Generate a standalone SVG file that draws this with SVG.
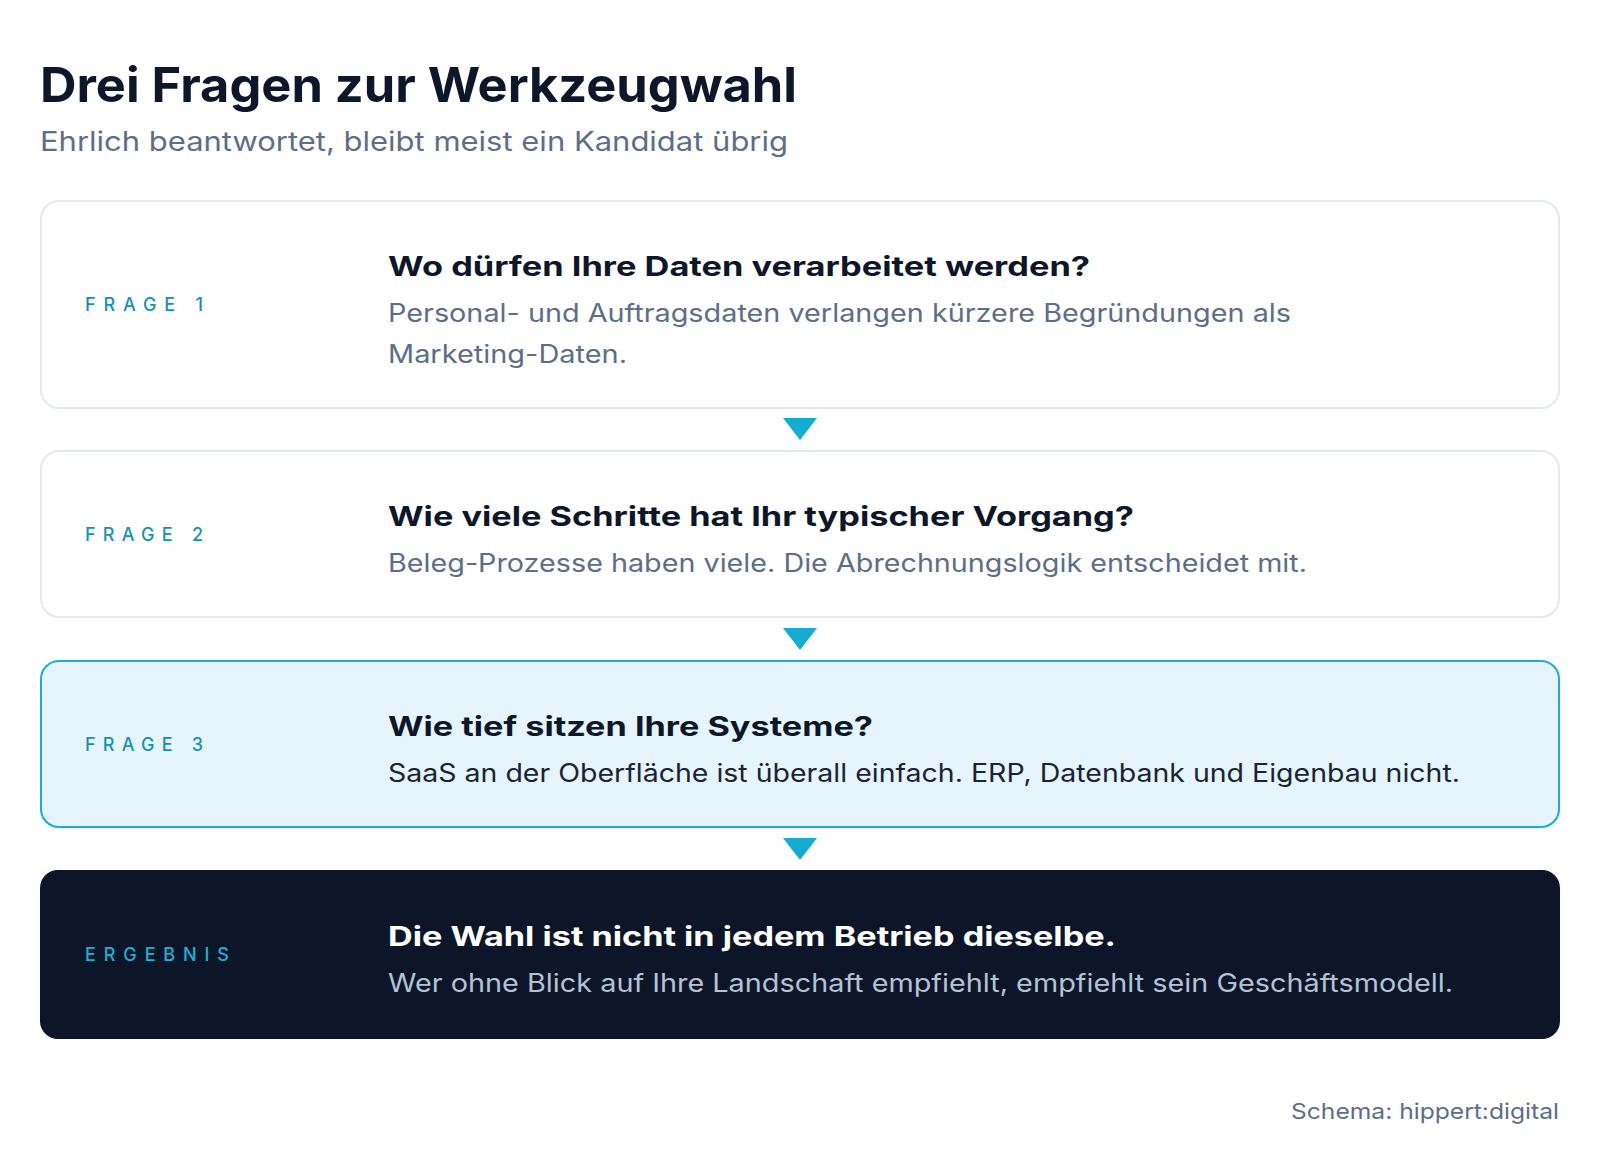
<svg xmlns="http://www.w3.org/2000/svg" width="1600" height="1158" viewBox="0 0 1600 1158">
  <style>
    .title { font-family: Inter, "Noto Sans", "Liberation Sans", sans-serif; font-weight: 700; font-size: 48px; fill: #0d1729; }
    .sub { font-family: Inter, "Noto Sans", "Liberation Sans", sans-serif; font-size: 27px; fill: #5e6e86; }
    .box { fill: #ffffff; stroke: #e2e8f0; stroke-width: 2; }
    .boxhi { fill: #e6f5fb; stroke: #17aed0; stroke-width: 2; }
    .boxdark { fill: #0c1628; }
    .lbl { font-family: Inter, "Noto Sans", "Liberation Sans", sans-serif; font-weight: 500; font-size: 18px; fill: #1592b0; letter-spacing: 6px; }
    .lbldark { fill: #19b2d6; }
    .head { font-family: Inter, "Noto Sans", "Liberation Sans", sans-serif; font-weight: 700; font-size: 27px; fill: #0d1729; }
    .headlight { fill: #ffffff; }
    .desc { font-family: Inter, "Noto Sans", "Liberation Sans", sans-serif; font-size: 25px; fill: #5e6e86; }
    .descdark { fill: #1a2436; }
    .desclight { fill: #b5c2d3; }
    .tri { fill: #14acd0; }
    .foot { font-family: Inter, "Noto Sans", "Liberation Sans", sans-serif; font-size: 22px; fill: #5e6e86; }
  </style>

  <rect x="0" y="0" width="1600" height="1158" fill="#ffffff"/>

  <g id="header">
    <text class="title" x="40" y="102" textLength="757" lengthAdjust="spacingAndGlyphs">Drei Fragen zur Werkzeugwahl</text>
    <text class="sub" x="40" y="151" textLength="748" lengthAdjust="spacingAndGlyphs">Ehrlich beantwortet, bleibt meist ein Kandidat übrig</text>
  </g>

  <g id="connectors">
    <polygon class="tri" points="783,418 817,418 800,440"/>
    <polygon class="tri" points="783,628 817,628 800,650"/>
    <polygon class="tri" points="783,838 817,838 800,860"/>
  </g>

  <g id="frage1">
    <rect class="box" x="41" y="201" width="1518" height="207" rx="18"/>
    <text class="lbl" x="85" y="311" textLength="124">FRAGE 1</text>
    <text class="head" x="388" y="276" textLength="702" lengthAdjust="spacingAndGlyphs">Wo dürfen Ihre Daten verarbeitet werden?</text>
    <text class="desc" x="388" y="322" textLength="903" lengthAdjust="spacingAndGlyphs">Personal- und Auftragsdaten verlangen kürzere Begründungen als</text>
    <text class="desc" x="388" y="363" textLength="239" lengthAdjust="spacingAndGlyphs">Marketing-Daten.</text>
  </g>

  <g id="frage2">
    <rect class="box" x="41" y="451" width="1518" height="166" rx="18"/>
    <text class="lbl" x="85" y="541" textLength="124">FRAGE 2</text>
    <text class="head" x="388" y="526" textLength="746" lengthAdjust="spacingAndGlyphs">Wie viele Schritte hat Ihr typischer Vorgang?</text>
    <text class="desc" x="388" y="572" textLength="919" lengthAdjust="spacingAndGlyphs">Beleg-Prozesse haben viele. Die Abrechnungslogik entscheidet mit.</text>
  </g>

  <g id="frage3">
    <rect class="boxhi" x="41" y="661" width="1518" height="166" rx="18"/>
    <text class="lbl" x="85" y="751" textLength="124">FRAGE 3</text>
    <text class="head" x="388" y="736" textLength="485" lengthAdjust="spacingAndGlyphs">Wie tief sitzen Ihre Systeme?</text>
    <text class="desc descdark" x="388" y="782" textLength="1072" lengthAdjust="spacingAndGlyphs">SaaS an der Oberfläche ist überall einfach. ERP, Datenbank und Eigenbau nicht.</text>
  </g>

  <g id="ergebnis">
    <rect class="boxdark" x="40" y="870" width="1520" height="169" rx="18"/>
    <text class="lbl lbldark" x="85" y="961" textLength="150">ERGEBNIS</text>
    <text class="head headlight" x="388" y="946" textLength="728" lengthAdjust="spacingAndGlyphs">Die Wahl ist nicht in jedem Betrieb dieselbe.</text>
    <text class="desc desclight" x="388" y="992" textLength="1065" lengthAdjust="spacingAndGlyphs">Wer ohne Blick auf Ihre Landschaft empfiehlt, empfiehlt sein Geschäftsmodell.</text>
  </g>

  <g id="footer">
    <text class="foot" x="1559" y="1119" text-anchor="end" textLength="268" lengthAdjust="spacingAndGlyphs">Schema: hippert:digital</text>
  </g>
</svg>
